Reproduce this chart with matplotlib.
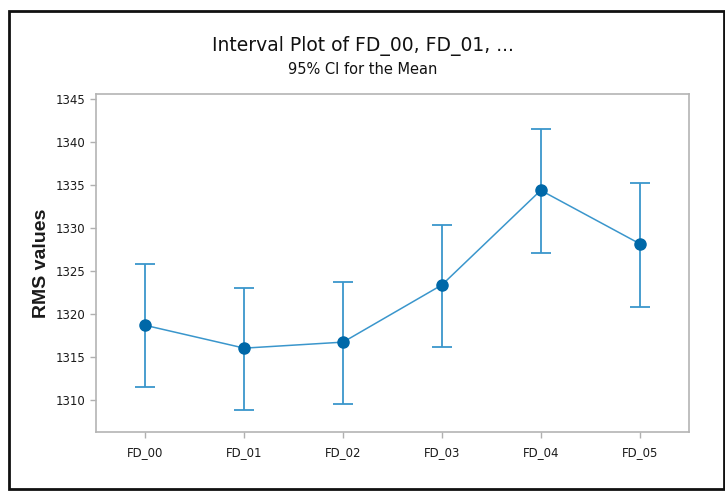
import matplotlib.pyplot as plt
from matplotlib.patches import Rectangle

# Mean RMS values with 95% CI bounds per group
groups = ["FD_00", "FD_01", "FD_02", "FD_03", "FD_04", "FD_05"]
means = [1318.7, 1316.05, 1316.75, 1323.4, 1334.4, 1328.2]
ci_low = [1311.55, 1308.8, 1309.5, 1316.2, 1327.1, 1320.8]
ci_high = [1325.85, 1323.0, 1323.7, 1330.4, 1341.5, 1335.2]
yticks = [1310, 1315, 1320, 1325, 1330, 1335, 1340, 1345]

plt.rcParams['font.family'] = ['DejaVu Sans']

fig = plt.figure(figsize=(7.25, 4.96), dpi=100)
ax = fig.add_axes([96 / 725, 1 - 432 / 496, (689 - 96) / 725, (432 - 94) / 496])

x = list(range(len(groups)))
err_lo = [m - lo for m, lo in zip(means, ci_low)]
err_hi = [hi - m for m, hi in zip(means, ci_high)]

ax.errorbar(x, means, yerr=[err_lo, err_hi], fmt='none', ecolor='#3a96cc',
            elinewidth=1.3, capsize=7, capthick=1.3, zorder=2)
ax.plot(x, means, color='#3a96cc', linewidth=1.1, zorder=3)
ax.plot(x, means, 'o', color='#0068a8', markersize=8, zorder=4)

ax.set_xlim(-0.5, 5.5)
ax.set_ylim(1306.3, 1345.6)
ax.set_xticks(x)
ax.set_xticklabels(groups)
ax.set_yticks(yticks)
ax.tick_params(axis='both', labelsize=8.5, colors='#b0b0b0', labelcolor='#1a1a1a',
               length=4, width=1)
ax.tick_params(axis='x', pad=6)
for s in ax.spines.values():
    s.set_color('#b4b4b4')
    s.set_linewidth(1.2)

ax.set_ylabel("RMS values", fontsize=14, fontweight='bold', color='#1a1a1a',
              family=['Liberation Sans', 'DejaVu Sans'], labelpad=4)

fig.text(0.5, 1 - 46 / 496, "Interval Plot of FD_00, FD_01, ...", ha='center', va='center',
         fontsize=13.5, color='#111111')
fig.text(0.5, 1 - 70 / 496, "95% CI for the Mean", ha='center', va='center',
         fontsize=10.5, color='#111111')

# outer frame around the whole graph
fig.patches.append(Rectangle((9 / 725, 1 - 489 / 496), (724 - 9) / 725, (489 - 11) / 496,
                             transform=fig.transFigure, fill=False,
                             edgecolor='#111111', linewidth=2))

fig.savefig("out.png", dpi=100)
